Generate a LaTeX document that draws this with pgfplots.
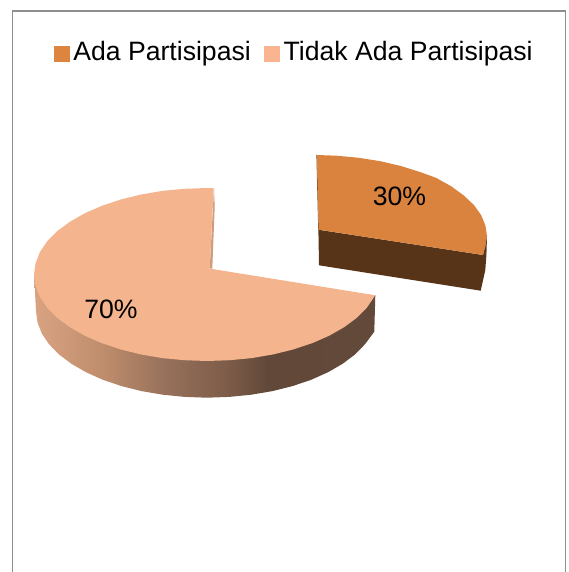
\documentclass[border=0pt]{standalone}
\usepackage{fontspec}
\setmainfont{Liberation Sans}
\usepackage{pgfplots}
\pgfplotsset{compat=1.18}
\definecolor{darkslice}{HTML}{D9833E}
\definecolor{lightslice}{HTML}{F4B48E}
\definecolor{legenddark}{HTML}{DD853F}
\definecolor{legendlight}{HTML}{F8B58F}
\definecolor{darkside}{HTML}{573418}
\definecolor{cutface}{HTML}{CF9C7C}
\definecolor{framegray}{HTML}{8E8E8E}
\pgfdeclarehorizontalshading{sideshade}{100bp}{
 color(0bp)=(rgb,255:red,217;green,163;blue,130);
 color(25bp)=(rgb,255:red,217;green,163;blue,130);
 color(34.7bp)=(rgb,255:red,192;green,142;blue,109);
 color(44.5bp)=(rgb,255:red,150;green,112;blue,90);
 color(54.2bp)=(rgb,255:red,122;green,90;blue,71);
 color(59.2bp)=(rgb,255:red,97;green,72;blue,56);
 color(75bp)=(rgb,255:red,98;green,73;blue,57);
 color(100bp)=(rgb,255:red,98;green,73;blue,57)}
\begin{document}
\begin{tikzpicture}
\useasboundingbox (0,0) rectangle (568pt,572pt);
\begin{axis}[
  at={(0,0)}, anchor=south west,
  scale only axis, width=568pt, height=572pt,
  xmin=0, xmax=568, ymin=0, ymax=572, y dir=reverse,
  hide axis,
  legend columns=2,
  legend style={draw=none, fill=none, at={(axis cs:54,52)}, anchor=west,
    font=\fontsize{26.6}{30}\selectfont, inner sep=0pt, outer sep=0pt,
    /tikz/every even column/.append style={column sep=11.5pt}},
  legend cell align=left,
  legend image code/.code={\fill[#1] (0pt,-9pt) rectangle (14.5pt,6pt);},
]
\addlegendimage{legenddark}
\addlegendentry{\hspace{2.5pt}Ada Partisipasi}
\addlegendimage{legendlight}
\addlegendentry{\hspace{2.5pt}Tidak Ada Partisipasi}
% frame
\addplot[forget plot, draw=framegray, line width=1.6pt] coordinates {(12.5,575)(12.5,11)(565.5,11)(565.5,575)};
% big slice: side
\addplot[forget plot, draw=none, shade, shading=sideshade] coordinates {
(34,274.5)(36,311)(37.5,322.3)(41.8,333.5)(49,344.2)(58.9,354.4)(71.4,363.8)(86.1,372.3)(102.9,379.8)(121.5,386.1)(141.5,391.1)(162.7,394.7)(184.6,396.9)(207,397.7)(229.4,396.9)(251.3,394.7)(272.5,391.1)(292.5,386.1)(311.1,379.8)(327.9,372.3)(342.6,363.8)(355.1,354.4)(365,344.2)(374.3,331.7)(375.3,295.3)
} -- cycle;
% big slice: cut wall
\addplot[forget plot, draw=none, fill=cutface] coordinates {(214,188.3)(214.7,206.7)(212.3,268.5)(209.7,268.7)} -- cycle;
% big slice: top
\addplot[forget plot, draw=none, fill=lightslice] coordinates {
(212.3,269)(375.3,295.3)(366.9,307.6)(356.8,317.8)(344.2,327.2)(329.3,335.7)(312.4,343.1)(293.5,349.4)(273.3,354.4)(251.8,358.1)(229.7,360.2)(207,361)(184.3,360.2)(162.2,358.1)(140.7,354.4)(120.5,349.4)(101.6,343.1)(84.7,335.7)(69.8,327.2)(57.2,317.8)(47.1,307.6)(39.9,296.9)(35.6,285.8)(34,274.5)(35.6,263.2)(39.9,252.1)(47.1,241.4)(57.2,231.2)(69.8,221.8)(84.7,213.3)(101.6,205.9)(120.5,199.6)(140.7,194.6)(162.2,190.9)(184.3,188.8)(207,188)(213.7,188.1)(209.7,268.7)
} -- cycle;
% small slice: side
\addplot[forget plot, draw=none, fill=darkside] coordinates {
(318.4,229.7)(483,255)(487,236)(486.4,255)(485.3,270)(480.7,290.7)(319,265.3)
} -- cycle;
% small slice: cut wall
\addplot[forget plot, draw=none, fill=darkside!70!darkslice] coordinates {(316.4,155)(317.2,155)(318.9,229.7)(318.2,229.7)} -- cycle;
% small slice: top
\addplot[forget plot, draw=none, fill=darkslice] coordinates {
(317,155)(336.7,155.7)(358.8,157.8)(380.3,161.2)(400.5,165.9)(419.4,171.8)(436,177.8)(451.2,186.3)(463.8,195.5)(473.9,205)(481.1,215)(485.4,225.4)(487,236)(485.4,246.6)(483,255)(318.7,229.7)
} -- cycle;
\node[font=\fontsize{26.6}{30}\selectfont] at (axis cs:399.5,196) {30\%};
\node[font=\fontsize{26.6}{30}\selectfont] at (axis cs:111,309) {70\%};
\end{axis}
\end{tikzpicture}
\end{document}
